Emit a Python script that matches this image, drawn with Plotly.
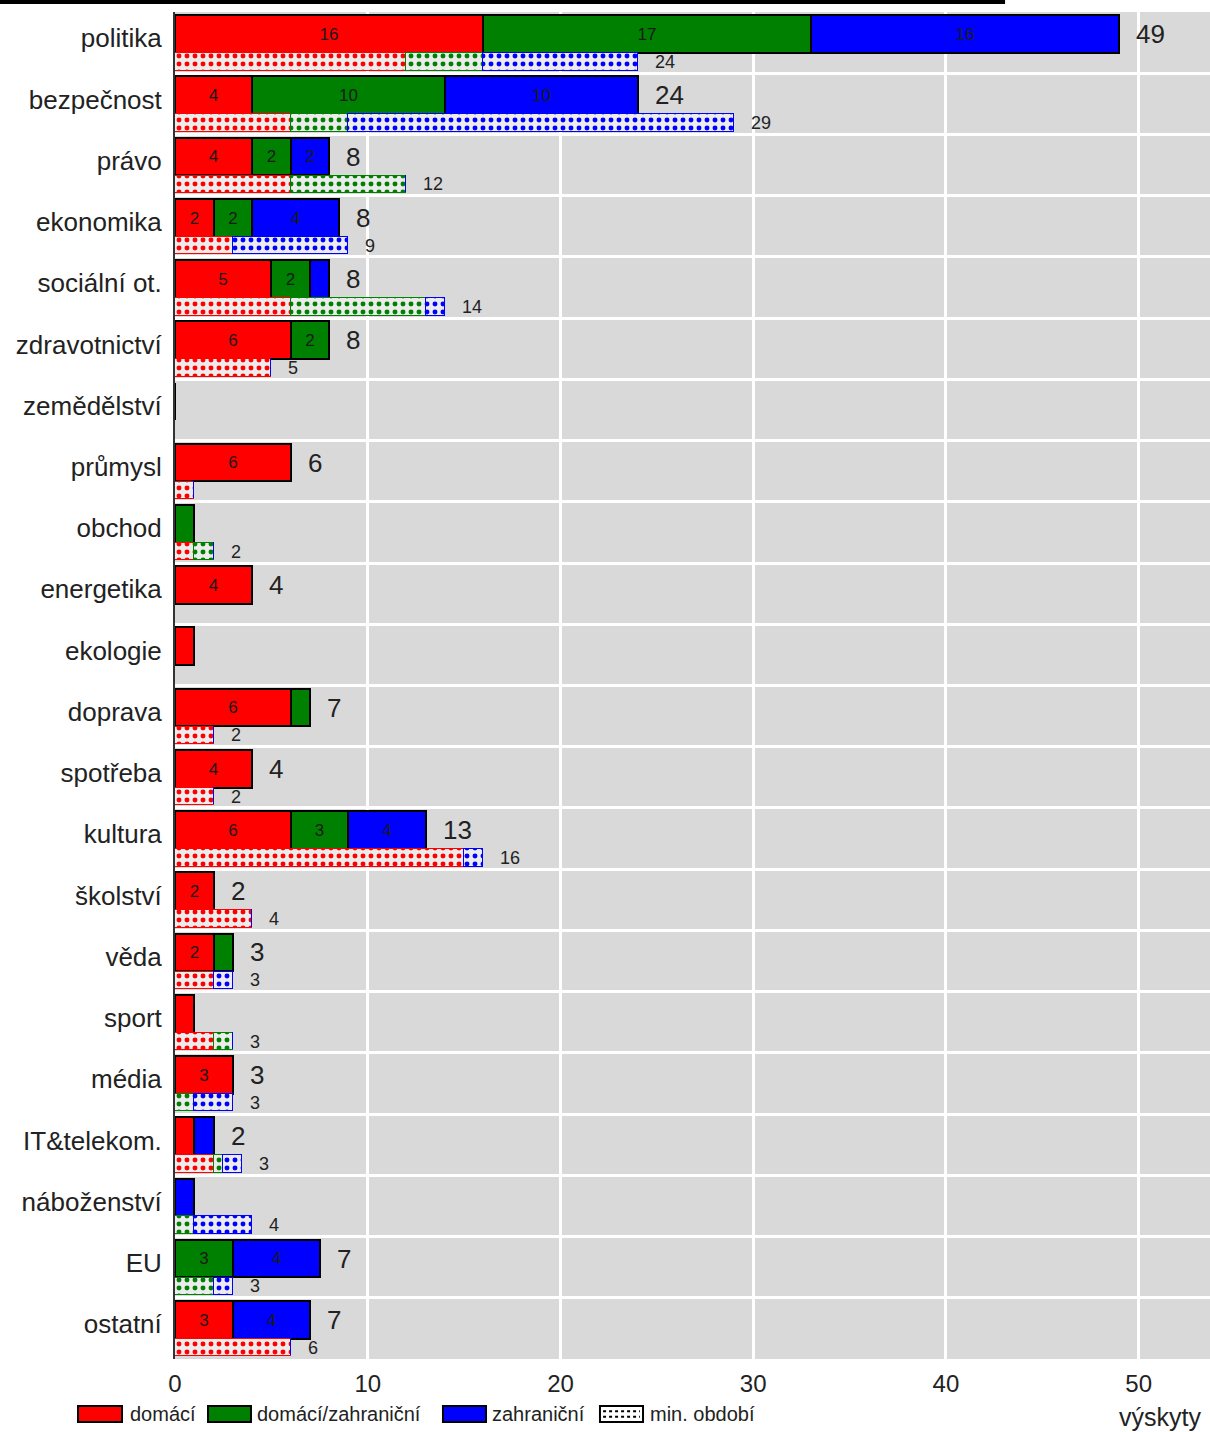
import plotly.graph_objects as go

categories = ["politika", "bezpečnost", "právo", "ekonomika", "sociální ot.", "zdravotnictví",
              "zemědělství", "průmysl", "obchod", "energetika", "ekologie", "doprava",
              "spotřeba", "kultura", "školství", "věda", "sport", "média", "IT&telekom.",
              "náboženství", "EU", "ostatní"]

# current period
cur_dom = [16, 4, 4, 2, 5, 6, 0, 6, 0, 4, 1, 6, 4, 6, 2, 2, 1, 3, 1, 0, 0, 3]
cur_dz  = [17, 10, 2, 2, 2, 2, 0, 0, 1, 0, 0, 1, 0, 3, 0, 1, 0, 0, 0, 0, 3, 0]
cur_zah = [16, 10, 2, 4.5, 1, 0, 0, 0, 0, 0, 0, 0, 0, 4, 0, 0, 0, 0, 1, 1, 4.5, 4]

# previous period (min. období)
prev_dom = [12, 6, 6, 3, 6, 5, 0, 1, 1, 0, 0, 2, 2, 15, 4, 2, 2, 0, 2, 0, 0, 6]
prev_dz  = [4, 3, 6, 0, 7, 0, 0, 0, 1, 0, 0, 0, 0, 0, 0, 0, 1, 1, 0.5, 1, 2, 0]
prev_zah = [8, 20, 0, 6, 1, 0, 0, 0, 0, 0, 0, 0, 0, 1, 0, 1, 0, 2, 1, 3, 1, 0]

series_names = ["domácí", "domácí/zahraniční", "zahraniční"]
prev_name = "min. období"
colors = ["#ff0000", "#008000", "#0000ff"]
x_ticks = [0, 10, 20, 30, 40, 50]
x_title = "výskyty"

n = len(categories)
idx = list(range(n))
main_y = [i - 0.14 for i in idx]
prev_y = [i + 0.315 for i in idx]
label_y = [i - 0.07 for i in idx]

FONT = "Liberation Sans, Arial, sans-serif"
TXT = "#222222"

fig = go.Figure()

cur_series = [cur_dom, cur_dz, cur_zah]
prev_series = [prev_dom, prev_dz, prev_zah]

for name, col, vals in zip(series_names, colors, cur_series):
    fig.add_trace(go.Bar(
        x=vals, y=main_y, orientation="h", width=0.615, name=name, showlegend=False,
        marker=dict(color=col, line=dict(color="black", width=2)),
        text=[str(int(v)) if v >= 2 else "" for v in vals],
        textposition="inside", insidetextanchor="middle", textangle=0,
        constraintext="none",
        textfont=dict(size=17, color="#1a1a1a", family=FONT),
        hoverinfo="skip",
    ))

for name, col, vals in zip(series_names, colors, prev_series):
    fig.add_trace(go.Bar(
        x=vals, y=prev_y, orientation="h", width=0.285, name=name,
        showlegend=False,
        marker=dict(color=col, line=dict(color=col, width=1.5),
                    pattern=dict(shape=".", fgcolor=col, bgcolor="#ececec",
                                 size=8, solidity=0.3, fillmode="replace")),
        hoverinfo="skip",
    ))

annotations = []
for i in idx:
    tot = cur_dom[i] + cur_dz[i] + cur_zah[i]
    if tot >= 2:
        annotations.append(dict(x=tot, y=main_y[i], xref="x", yref="y", text=str(int(tot)),
                                showarrow=False, xanchor="left", yanchor="middle", xshift=15,
                                font=dict(size=26, color=TXT, family=FONT)))
    ptot = prev_dom[i] + prev_dz[i] + prev_zah[i]
    if ptot >= 2:
        annotations.append(dict(x=ptot, y=prev_y[i], xref="x", yref="y", text=str(int(ptot)),
                                showarrow=False, xanchor="left", yanchor="middle", xshift=15,
                                font=dict(size=18, color=TXT, family=FONT)))

annotations.append(dict(x=0.993, y=-0.043, xref="paper", yref="paper", text=x_title,
                        showarrow=False, xanchor="right", yanchor="middle",
                        font=dict(size=25, color=TXT, family=FONT)))

# manual legend (wide boxes like the original)
shapes = [dict(type="rect", xref="paper", yref="paper", x0=-0.175, x1=0.802,
               y0=1.0059, y1=1.0089, fillcolor="black", line=dict(width=0))]
leg_y0, leg_y1, leg_ty = -0.0468, -0.0349, -0.0408
leg_boxes = [(-0.0937, -0.0512, -0.0454), (0.0319, 0.0734, 0.0773),
             (0.2589, 0.3005, 0.3043), (0.4106, 0.4522, 0.4570)]
leg_labels = series_names + [prev_name]
leg_fills = colors + ["white"]
for (bx0, bx1, tx), lab, fc in zip(leg_boxes, leg_labels, leg_fills):
    shapes.append(dict(type="rect", xref="paper", yref="paper", x0=bx0, x1=bx1,
                       y0=leg_y0, y1=leg_y1, fillcolor=fc, line=dict(color="black", width=2)))
    annotations.append(dict(x=tx, y=leg_ty, xref="paper", yref="paper", text=lab,
                            showarrow=False, xanchor="left", yanchor="middle",
                            font=dict(size=20, color=TXT, family=FONT)))
# dotted pattern inside the "min. období" key
bx0, bx1, _ = leg_boxes[3]
for yy in (leg_y0 + (leg_y1 - leg_y0) * 0.33, leg_y0 + (leg_y1 - leg_y0) * 0.67):
    shapes.append(dict(type="line", xref="paper", yref="paper", x0=bx0 + 0.003, x1=bx1 - 0.003,
                       y0=yy, y1=yy, line=dict(color="black", width=2, dash="dot")))

fig.update_layout(
    width=1210, height=1432,
    margin=dict(l=175, r=0, t=12, b=73),
    barmode="stack",
    bargap=0,
    paper_bgcolor="white",
    plot_bgcolor="#d9d9d9",
    font=dict(family=FONT, color=TXT),
    showlegend=False,
    annotations=annotations,
    shapes=shapes,
)

fig.update_xaxes(
    range=[0, 53.7], tickvals=x_ticks, ticktext=[str(t) for t in x_ticks],
    showgrid=True, gridcolor="white", gridwidth=3, zeroline=False,
    ticks="outside", ticklen=3, tickcolor="rgba(0,0,0,0)",
    tickfont=dict(size=24, color=TXT, family=FONT),
    showline=False,
)
fig.update_yaxes(
    range=[n - 0.5, -0.5], tickvals=label_y, ticktext=categories,
    showgrid=False, zeroline=False, ticks="outside", ticklen=6, tickcolor="rgba(0,0,0,0)",
    tickfont=dict(size=26, color=TXT, family=FONT),
    showline=True, linecolor="#333333", linewidth=2,
    minor=dict(tickvals=[i + 0.5 for i in idx[:-1]], showgrid=True, gridcolor="white",
               gridwidth=3, ticks=""),
)

fig.write_html("out.html", config={"displayModeBar": False},
               post_script="document.body.style.margin='0';")
